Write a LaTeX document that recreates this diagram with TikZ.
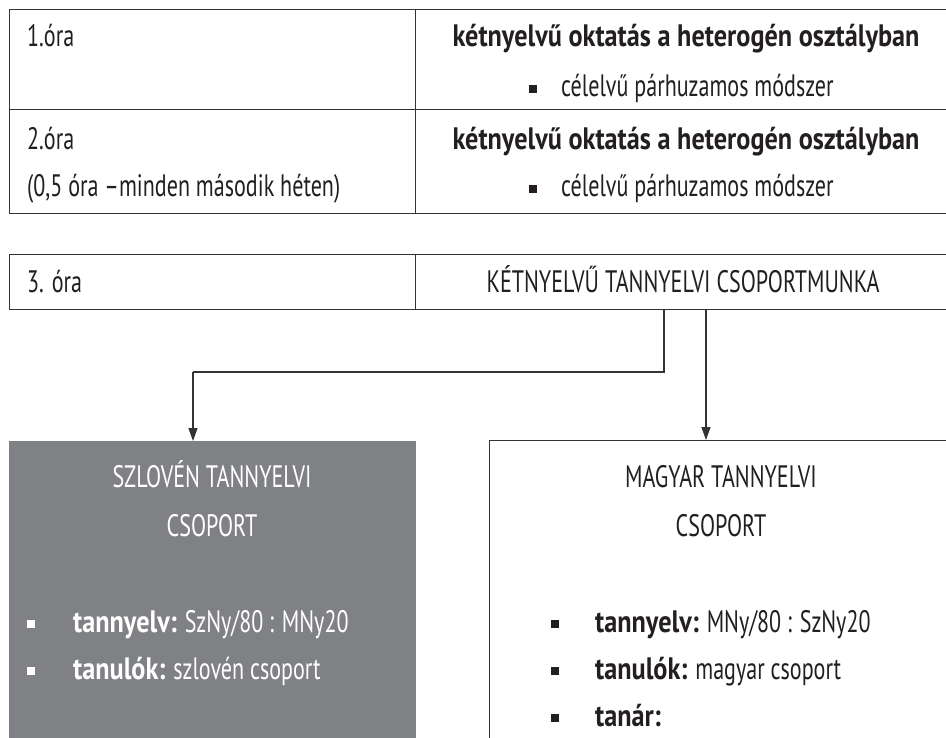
\documentclass[tikz,border=0pt]{standalone}
\usepackage{fontspec}
\setmainfont{PT Sans}[FakeStretch=0.712, BoldFont={PT Sans Bold}, BoldFeatures={FakeStretch=0.846}]
\usetikzlibrary{arrows.meta}
\definecolor{linec}{HTML}{333333}
\definecolor{txtc}{HTML}{231F20}
\definecolor{greyfill}{HTML}{808185}
\tikzset{
  cell/.style={draw=linec, line width=1.4pt, rectangle, anchor=north west, inner sep=0pt},
  txt/.style={inner sep=0pt, text=txtc, font=\fontsize{31}{36}\selectfont},
  wtxt/.style={txt, text=white},
  bul/.style={rectangle, fill=txtc, minimum width=7.5pt, minimum height=8.5pt, inner sep=0pt},
  wbul/.style={bul, fill=white},
  conn/.style={draw=linec, line width=1.4pt},
  arr/.style={conn, -{Triangle[width=9pt,length=13pt]}}
}
\begin{document}
\begin{tikzpicture}[x=1pt,y=-1pt]
\clip (0,0) rectangle (946,738);
\fill[white] (0,0) rectangle (946,738);
% table 1
\node[cell, minimum width=406pt, minimum height=100pt] (c11) at (9,9) {};
\node[cell, minimum width=560pt, minimum height=100pt] (c12) at (415,9) {};
\node[cell, minimum width=406pt, minimum height=104pt] (c21) at (9,109) {};
\node[cell, minimum width=560pt, minimum height=104pt] (c22) at (415,109) {};
\node[txt, anchor=base west] (o1) at (27,47) {1.óra};
\node[txt, anchor=base, font=\fontsize{31}{36}\selectfont\bfseries] (h1) at (686,47) {kétnyelvű oktatás a heterogén osztályban};
\node[bul] (b1) at (533,89) {};
\node[txt, anchor=base west] (m1) at (561,97) {célelvű párhuzamos módszer};
\node[txt, anchor=base west] (o2) at (27,150) {2.óra};
\node[txt, anchor=base west] (o2b) at (27,197) {(0,5 óra –minden második héten)};
\node[txt, anchor=base, font=\fontsize{31}{36}\selectfont\bfseries] (h2) at (686,150) {kétnyelvű oktatás a heterogén osztályban};
\node[bul] (b2) at (533,189) {};
\node[txt, anchor=base west] (m2) at (561,197) {célelvű párhuzamos módszer};
% table 2
\node[cell, minimum width=406pt, minimum height=55pt] (t2l) at (9,254) {};
\node[cell, minimum width=560pt, minimum height=55pt] (t2r) at (415,254) {};
\node[txt, anchor=base west] (o3) at (27,293) {3. óra};
\node[txt, anchor=base] (h3) at (683,293) {KÉTNYELVŰ TANNYELVI CSOPORTMUNKA};
% boxes
\node[rectangle, fill=greyfill, anchor=north west, minimum width=407pt, minimum height=320pt, inner sep=0pt] (slo) at (9,441) {};
\node[cell, minimum width=480pt, minimum height=320pt] (mag) at (489,440) {};
% slovene box text
\node[wtxt, anchor=base] (s1) at (212,487) {SZLOVÉN TANNYELVI};
\node[wtxt, anchor=base] (s2) at (212,536) {CSOPORT};
\node[wbul] (sb1) at (31,624) {};
\node[wtxt, anchor=base west] (st1) at (73,632) {\textbf{tannyelv:} SzNy/80 : MNy20};
\node[wbul] (sb2) at (31,671) {};
\node[wtxt, anchor=base west] (st2) at (73,679) {\textbf{tanulók:} szlovén csoport};
% hungarian box text
\node[txt, anchor=base] (m1t) at (721,487) {MAGYAR TANNYELVI};
\node[txt, anchor=base] (m2t) at (721,536) {CSOPORT};
\node[bul] (mb1) at (555,624) {};
\node[txt, anchor=base west] (mt1) at (595,632) {\textbf{tannyelv:} MNy/80 : SzNy20};
\node[bul] (mb2) at (555,671) {};
\node[txt, anchor=base west] (mt2) at (595,679) {\textbf{tanulók:} magyar csoport};
\node[bul] (mb3) at (555,718) {};
\node[txt, anchor=base west] (mt3) at (595,726) {\textbf{tanár:}};
% connectors
\coordinate (k1) at (664,372);
\coordinate (k2) at (193,372);
\coordinate (k3) at (706,372);
\draw[conn] (k1 |- t2r.south) -- (k1) -- (k2);
\draw[arr] (k2) -- (k2 |- slo.north);
\draw[arr] (k3 |- t2r.south) -- (k3 |- mag.north);
\end{tikzpicture}
\end{document}
